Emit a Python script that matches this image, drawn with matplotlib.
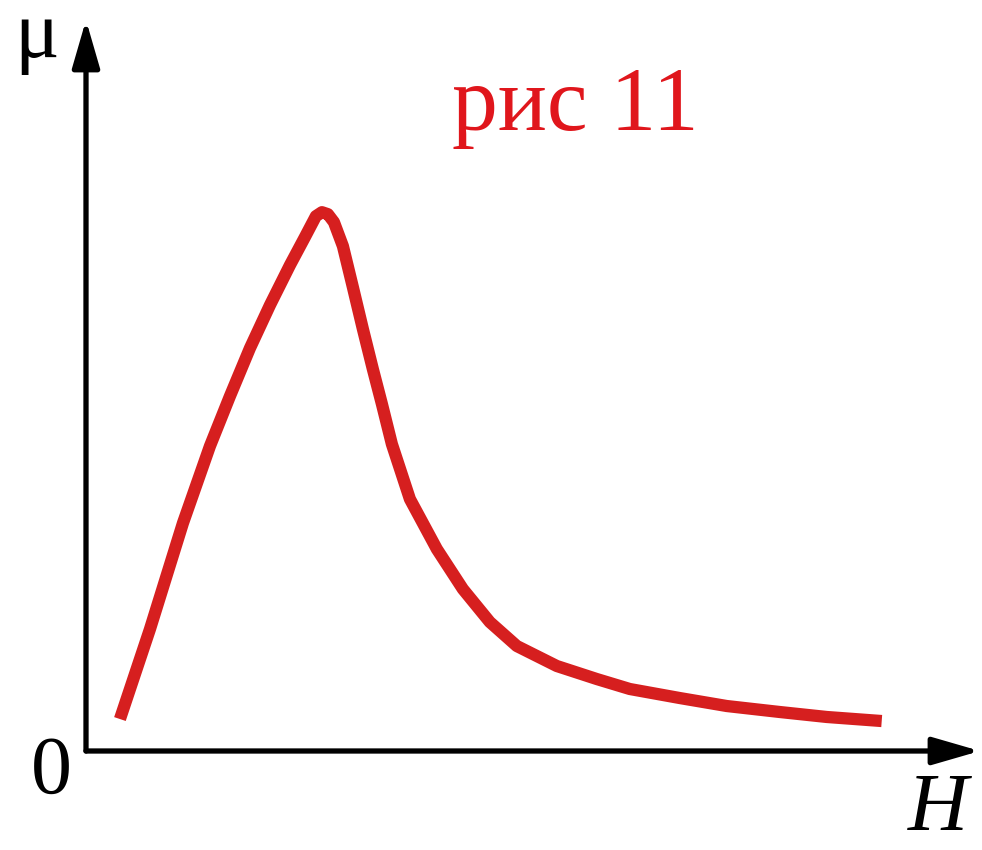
import matplotlib
matplotlib.use("Agg")
import matplotlib.pyplot as plt

# Magnetic permeability mu versus field strength H
H_values = [0.382, 0.720, 1.091, 1.395, 1.620, 1.845, 2.070, 2.295, 2.463,
            2.587, 2.655, 2.722, 2.790, 2.891, 3.003, 3.116, 3.228, 3.330,
            3.442, 3.645, 3.948, 4.241, 4.544, 4.848, 5.298, 5.748, 6.119,
            6.682, 7.210, 7.806, 8.335, 8.954]
mu_values = [0.449, 1.713, 3.202, 4.284, 4.986, 5.660, 6.264, 6.826, 7.219,
             7.514, 7.570, 7.542, 7.430, 7.093, 6.517, 5.927, 5.365, 4.874,
             4.312, 3.539, 2.837, 2.275, 1.812, 1.475, 1.194, 1.011, 0.871,
             0.744, 0.632, 0.548, 0.478, 0.421]

title_text = "рис 11"
x_label = "H"
y_label = "μ"
origin_label = "0"

serif = ["Liberation Serif", "DejaVu Serif"]
curve_color = "#d61f1f"

fig = plt.figure(figsize=(9.82, 8.5), dpi=100)
ax = fig.add_axes([86 / 982, 99 / 850, 894 / 982, 731 / 850])
ax.set_xlim(0, 10.06)
ax.set_ylim(0, 10.27)
ax.axis("off")

ax.plot(H_values, mu_values, color=curve_color, lw=8.8,
        solid_capstyle="butt", solid_joinstyle="round")

# Axes with arrow heads
arrow_kw = dict(arrowstyle="-|>,head_length=1.45,head_width=0.42",
                mutation_scale=20, lw=3.8, color="black",
                shrinkA=0, shrinkB=0)
ax.annotate("", xy=(1, 0), xytext=(0, 0), xycoords="axes fraction",
            textcoords="axes fraction", arrowprops=arrow_kw,
            annotation_clip=False)
ax.annotate("", xy=(0, 1), xytext=(0, 0), xycoords="axes fraction",
            textcoords="axes fraction", arrowprops=arrow_kw,
            annotation_clip=False)

fig.text(37 / 982, 1 - 57 / 850, y_label, family=serif, fontsize=60,
         ha="center", va="baseline")
fig.text(51 / 982, 1 - 793 / 850, origin_label, family=serif, fontsize=59,
         ha="center", va="baseline")
fig.text(938 / 982, 1 - 830 / 850, x_label, family=serif, style="italic",
         fontsize=60, ha="center", va="baseline")
fig.text(575 / 982, 1 - 130 / 850, title_text, family=serif, fontsize=66,
         color="#e0161c", ha="center", va="baseline")

fig.savefig("out.png", dpi=100, facecolor="white")
